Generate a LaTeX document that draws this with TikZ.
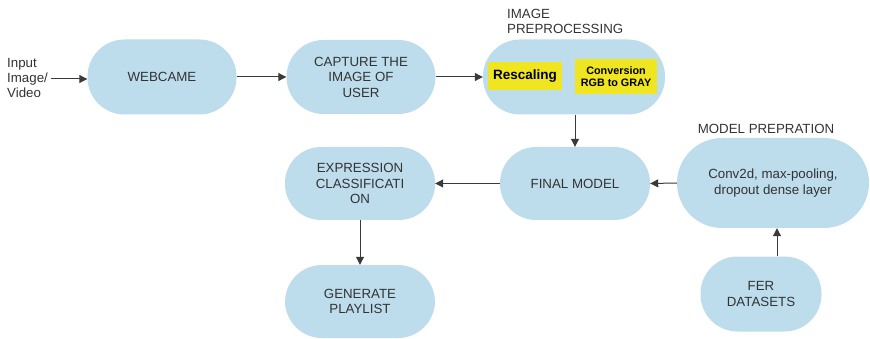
\documentclass[tikz,border=0pt]{standalone}
\usepackage{fontspec}
\setmainfont{Liberation Sans}
\usetikzlibrary{arrows.meta}
\definecolor{boxblue}{HTML}{BDDCEC}
\definecolor{hiyel}{HTML}{EFE520}
\definecolor{txt}{HTML}{333333}
\definecolor{arr}{HTML}{3A3A3A}
\tikzset{
  stad/.style={fill=boxblue, draw=none, rounded corners=#1, align=center, text=txt, font=\fontsize{13.3}{15.5}\selectfont, inner sep=0pt},
  conn/.style={draw=arr, line width=1pt, -{Triangle[length=8pt,width=8pt]}},
  lbl/.style={text=txt, font=\fontsize{13.3}{15}\selectfont, align=left, inner sep=0pt},
}
\begin{document}
\begin{tikzpicture}[x=1pt,y=-1pt]
\useasboundingbox (0,0) rectangle (870,339);
% nodes
\node[lbl, anchor=west] (inp) at (7,78) {Input\\Image/\\Video};
\node[stad=37pt, minimum width=149pt, minimum height=75pt] (web) at (162,77) {WEBCAME};
\node[stad=37pt, minimum width=149pt, minimum height=74pt] (cap) at (361,77) {CAPTURE THE\\IMAGE OF\\USER};
\node[stad=37pt, minimum width=182pt, minimum height=75pt] (pre) at (574,77) {};
\node[fill=hiyel, minimum width=74pt, minimum height=28pt, inner sep=0pt, text=black, font=\bfseries\fontsize{13.5}{14}\selectfont] (resc) at (525,76) {Rescaling};
\node[fill=hiyel, minimum width=82pt, minimum height=35pt, inner sep=0pt, align=center, text=black, font=\bfseries\fontsize{10.8}{12.5}\selectfont] (conv) at (616,76.5) {Conversion\\RGB to GRAY};
\node[lbl, anchor=south west] (prelbl) at (507,34) {IMAGE\\PREPROCESSING};
\node[stad=36pt, minimum width=150pt, minimum height=73pt] (fin) at (575,183.5) {FINAL MODEL};
\node[stad=36pt, minimum width=150pt, minimum height=73pt] (exp) at (360,183.5) {EXPRESSION\\CLASSIFICATI\\ON};
\node[stad=45pt, minimum width=192pt, minimum height=90pt] (mod) at (773,183) {Conv2d, max-pooling,\\dropout dense layer};
\node[lbl, anchor=south] (modlbl) at (766,134) {MODEL PREPRATION};
\node[stad=37pt, minimum width=121pt, minimum height=75pt] (fer) at (761,294) {FER\\DATASETS};
\node[stad=37pt, minimum width=150pt, minimum height=73pt] (gen) at (360,301.5) {GENERATE\\PLAYLIST};
% connectors
\coordinate (inpend) at (51,79);
\draw[conn] (inpend) -- (web.west |- inpend);
\draw[conn] (web.east) -- (cap.west);
\draw[conn] (cap.east) -- (pre.west);
\draw[conn] (pre.south -| fin.north) -- (fin.north);
\draw[conn] (fin.west) -- (exp.east);
\draw[conn] (mod.west) -- (fin.east);
\draw[conn] (fer.north -| 777,0) -- (mod.south -| 777,0);
\draw[conn] (exp.south) -- (gen.north);
\end{tikzpicture}
\end{document}
